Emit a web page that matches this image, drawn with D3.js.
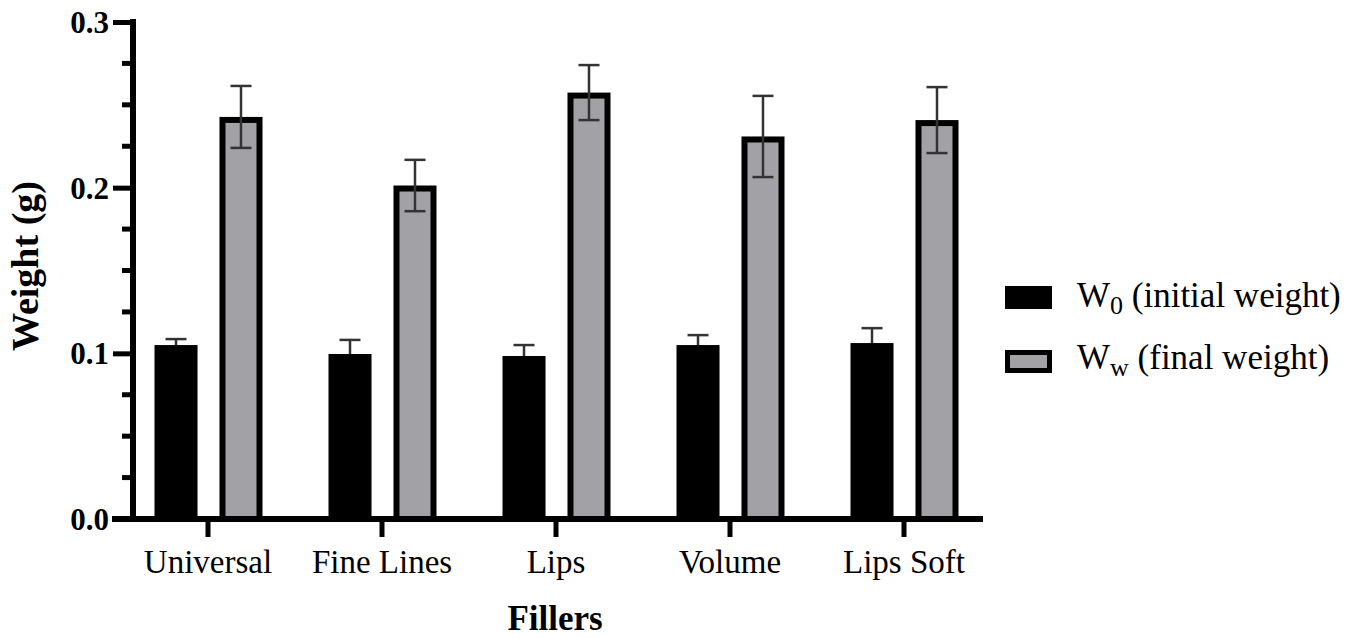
<!DOCTYPE html>
<html>
<head>
<meta charset="utf-8">
<script src="https://cdn.jsdelivr.net/npm/d3@7"></script>
<style>
	html, body { margin: 0; padding: 0; background: #fff; }
	svg { display: block; }
</style>
</head>
<body>
<div id="chart"></div>
<script>
// Data
const categories = ['Universal', 'Fine Lines', 'Lips', 'Volume', 'Lips Soft'];
const seriesKeys = ['w0', 'ww'];
const w0Values = [0.105, 0.0996, 0.0984, 0.105, 0.1062];
const w0Errors = [0.0036, 0.0085, 0.0066, 0.006, 0.009];
const wwValues = [0.2427, 0.2013, 0.2574, 0.2309, 0.2408];
const wwErrors = [0.0187, 0.0155, 0.0166, 0.0245, 0.0199];
const majorTicks = [0, 0.1, 0.2, 0.3];
const minorTicks = [0.025, 0.05, 0.075, 0.125, 0.15, 0.175, 0.225, 0.25, 0.275];

(function() {
	const W = 1368, H = 638;
	const grey = '#a2a1a6';
	const font = '"Liberation Serif", "Times New Roman", serif';

	const svg = d3.select('#chart').append('svg')
		.attr('width', W)
		.attr('height', H)
		.style('font-family', font);

	const y = d3.scaleLinear().domain([0, 0.3]).range([519, 22]);
	const x0 = d3.scaleBand().domain(categories).range([121, 991]);
	const x1 = d3.scaleBand().domain(seriesKeys).range([33.5, 141.5]).paddingInner(0.338);

	const rows = categories.map(function(c, i) {
		return { cat: c, w0: w0Values[i], w0e: w0Errors[i], ww: wwValues[i], wwe: wwErrors[i] };
	});

	function errBars(key, errKey) {
		const g = svg.append('g')
			.attr('stroke', '#333')
			.attr('stroke-width', 2.5)
			.attr('fill', 'none');
		rows.forEach(function(d) {
			const cx = x0(d.cat) + x1(key) + x1.bandwidth() / 2;
			const top = y(d[key] + d[errKey]);
			const bot = y(d[key] - d[errKey]);
			g.append('line').attr('x1', cx).attr('x2', cx).attr('y1', top).attr('y2', bot);
			g.append('line').attr('x1', cx - 10.5).attr('x2', cx + 10.5).attr('y1', top).attr('y2', top);
			g.append('line').attr('x1', cx - 10.5).attr('x2', cx + 10.5).attr('y1', bot).attr('y2', bot);
		});
	}

	// W0 error bars sit behind the black bars
	errBars('w0', 'w0e');

	svg.append('g').selectAll('rect')
		.data(rows)
		.join('rect')
		.attr('x', function(d) { return x0(d.cat) + x1('w0'); })
		.attr('y', function(d) { return y(d.w0); })
		.attr('width', x1.bandwidth())
		.attr('height', function(d) { return y(0) - y(d.w0); })
		.attr('fill', '#000');

	svg.append('g').selectAll('rect')
		.data(rows)
		.join('rect')
		.attr('x', function(d) { return x0(d.cat) + x1('ww') + 3; })
		.attr('y', function(d) { return y(d.ww) + 3; })
		.attr('width', x1.bandwidth() - 6)
		.attr('height', function(d) { return y(0) - y(d.ww) - 3; })
		.attr('fill', grey)
		.attr('stroke', '#000')
		.attr('stroke-width', 6);

	errBars('ww', 'wwe');

	// Y axis
	const yAxis = svg.append('g').attr('transform', 'translate(133,0)');
	yAxis.call(d3.axisLeft(y).tickValues(majorTicks).tickSize(20).tickPadding(4).tickFormat(d3.format('.1f')));
	yAxis.select('.domain').remove();
	yAxis.selectAll('.tick line').attr('stroke', '#000').attr('stroke-width', 5);
	yAxis.selectAll('.tick text')
		.attr('fill', '#000')
		.style('font-family', font)
		.style('font-size', '31px')
		.style('font-weight', 'bold')
		.attr('dy', '0.34em');
	yAxis.append('g').selectAll('line')
		.data(minorTicks)
		.join('line')
		.attr('x1', -11).attr('x2', 0)
		.attr('y1', function(d) { return y(d); })
		.attr('y2', function(d) { return y(d); })
		.attr('stroke', '#000')
		.attr('stroke-width', 5);
	yAxis.append('line')
		.attr('x1', 0).attr('x2', 0)
		.attr('y1', 19).attr('y2', 522)
		.attr('stroke', '#000')
		.attr('stroke-width', 6);

	// X axis
	const xAxis = svg.append('g').attr('transform', 'translate(0,519)');
	xAxis.call(d3.axisBottom(x0).tickSize(18).tickPadding(13));
	xAxis.select('.domain').remove();
	xAxis.selectAll('.tick line').attr('stroke', '#000').attr('stroke-width', 5);
	xAxis.selectAll('.tick text')
		.attr('fill', '#000')
		.style('font-family', font)
		.style('font-size', '33px');
	xAxis.append('line')
		.attr('x1', 112).attr('x2', 983)
		.attr('y1', 0).attr('y2', 0)
		.attr('stroke', '#000')
		.attr('stroke-width', 6);

	// Axis titles
	svg.append('text')
		.attr('x', 555)
		.attr('y', 630)
		.attr('text-anchor', 'middle')
		.style('font-size', '35px')
		.style('font-weight', 'bold')
		.text('Fillers');

	svg.append('text')
		.attr('transform', 'translate(38,266) rotate(-90)')
		.attr('text-anchor', 'middle')
		.style('font-size', '38px')
		.style('font-weight', 'bold')
		.text('Weight (g)');

	// Legend
	const legend = svg.append('g');
	legend.append('rect')
		.attr('x', 1005).attr('y', 286)
		.attr('width', 47).attr('height', 23)
		.attr('fill', '#000');
	legend.append('rect')
		.attr('x', 1007.5).attr('y', 352.5)
		.attr('width', 42).attr('height', 18)
		.attr('fill', grey)
		.attr('stroke', '#000')
		.attr('stroke-width', 5);

	const t1 = legend.append('text').attr('x', 1077).attr('y', 307).style('font-size', '35px');
	t1.append('tspan').text('W');
	t1.append('tspan').attr('dy', 7).style('font-size', '26px').text('0');
	t1.append('tspan').attr('dy', -7).text(' (initial weight)');

	const t2 = legend.append('text').attr('x', 1077).attr('y', 369).style('font-size', '35px');
	t2.append('tspan').text('W');
	t2.append('tspan').attr('dy', 7).style('font-size', '26px').text('w');
	t2.append('tspan').attr('dy', -7).text(' (final weight)');
})();
</script>
</body>
</html>
